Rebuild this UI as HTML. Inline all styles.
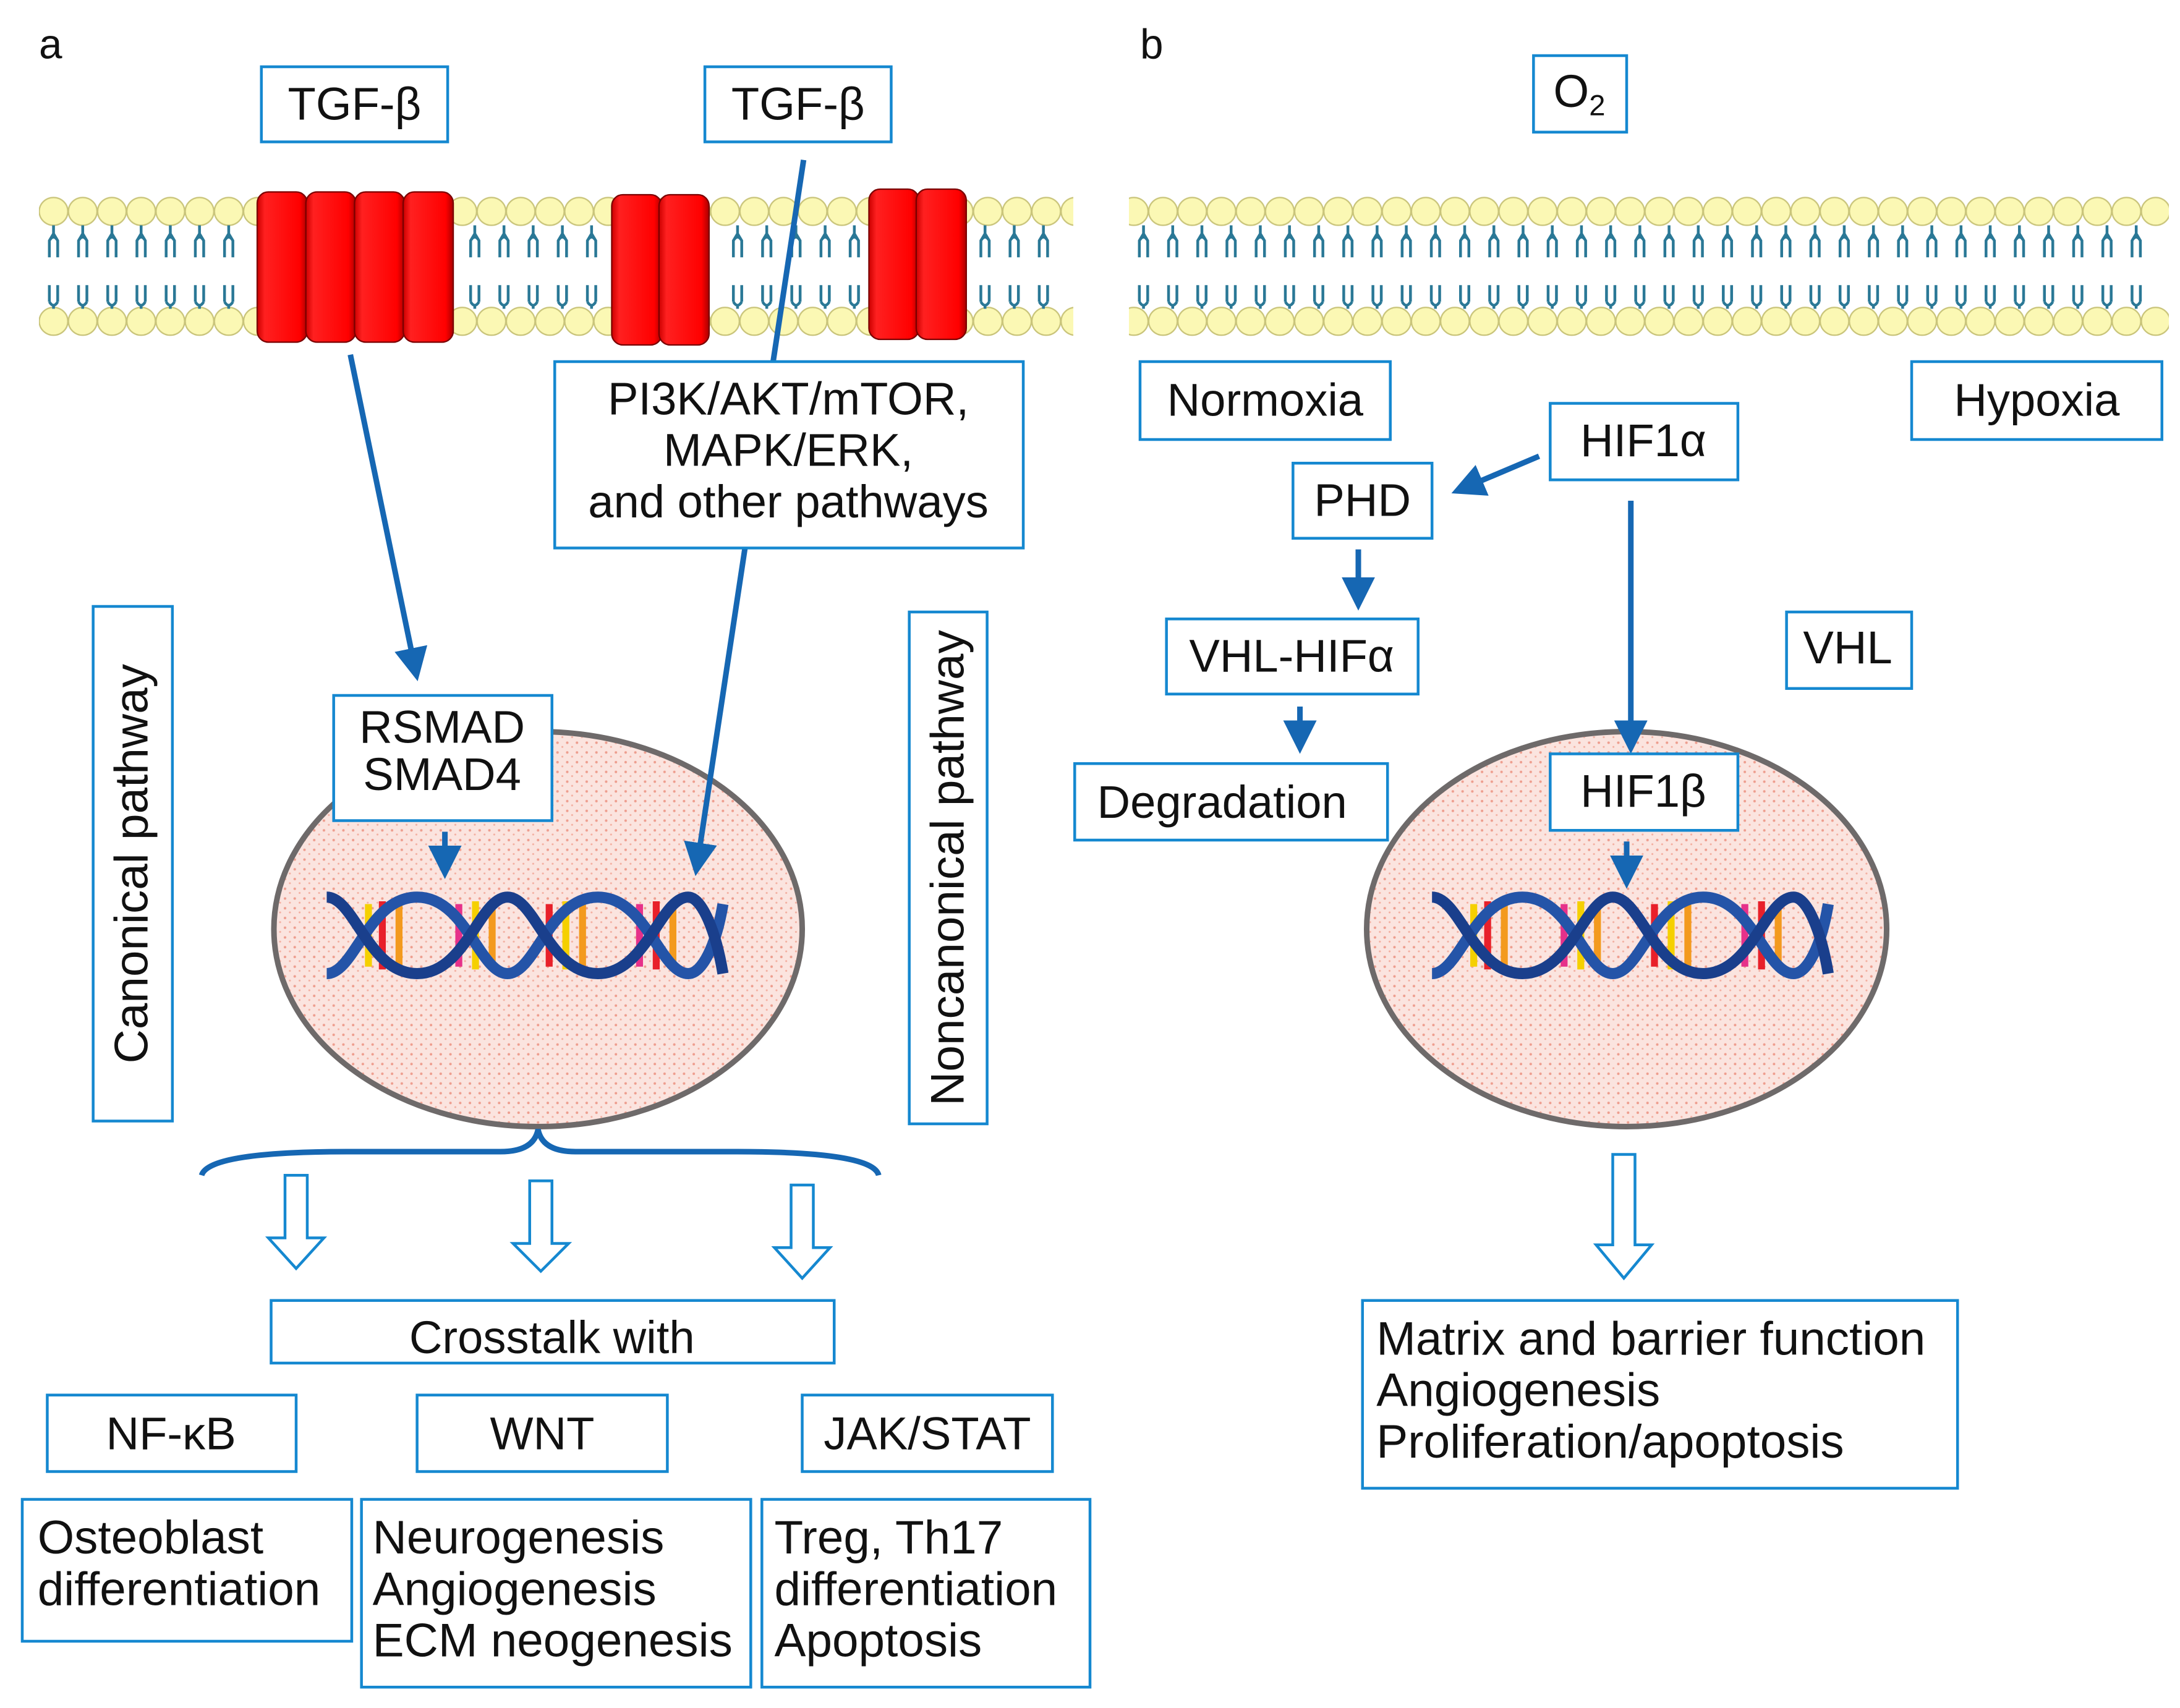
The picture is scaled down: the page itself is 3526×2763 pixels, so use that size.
<!DOCTYPE html>
<html><head><meta charset="utf-8"><style>
html,body{margin:0;padding:0;background:#fff}
svg{display:block}
text{font-family:"Liberation Sans",Arial,sans-serif;fill:#111}
</style></head><body>
<svg width="3526" height="2763" viewBox="0 0 1568 1228" preserveAspectRatio="none" xmlns="http://www.w3.org/2000/svg">
<defs>
<pattern id="lip" x="28" y="141" width="21" height="101" patternUnits="userSpaceOnUse">
<ellipse cx="10.5" cy="11" rx="10.3" ry="10" fill="#fbf8b4" stroke="#c9c47a" stroke-width="1"/>
<ellipse cx="10.5" cy="90" rx="10.3" ry="10" fill="#fbf8b4" stroke="#c9c47a" stroke-width="1"/>
</pattern>
<g id="tail" fill="none" stroke="#2a7896" stroke-width="2">
<path d="M0,162 v6 M-3,178 v-5 q3,-5 6,0 v5 M-3,173 l3,-5 l3,5 M-3,185 v-12 M3,185 v-12"/>
<path d="M-3,205 v12 M3,205 v12 M-3,217 q3,5 6,0 M0,220 v2"/>
</g>
<pattern id="dots" width="7" height="7" patternUnits="userSpaceOnUse">
<circle cx="2" cy="2" r="0.9" fill="#e8806c"/><circle cx="5.5" cy="5" r="0.7" fill="#ef9a88"/>
</pattern>
<marker id="ah" markerWidth="6" markerHeight="6" refX="3" refY="3" orient="auto" markerUnits="strokeWidth">
<path d="M0,0 L6,3 L0,6 z" fill="#1667b3"/>
</marker>
<linearGradient id="rg" x1="0" x2="1"><stop offset="0" stop-color="#c00"/><stop offset="0.15" stop-color="#ff2020"/><stop offset="0.85" stop-color="#f00"/><stop offset="1" stop-color="#a00"/></linearGradient>
</defs>

<text x="28" y="42" font-size="30">a</text>
<text x="820" y="42" font-size="30">b</text>

<!-- membranes -->
<rect x="28" y="141" width="744" height="101" fill="url(#lip)"/>
<rect x="812" y="141" width="748" height="101" fill="url(#lip)"/>
<g>
<use href="#tail" x="38.5"/><use href="#tail" x="59.5"/><use href="#tail" x="80.5"/><use href="#tail" x="101.5"/><use href="#tail" x="122.5"/><use href="#tail" x="143.5"/><use href="#tail" x="164.5"/>
<use href="#tail" x="341.5"/><use href="#tail" x="362.5"/><use href="#tail" x="383.5"/><use href="#tail" x="404.5"/><use href="#tail" x="425.5"/>
<use href="#tail" x="530.5"/><use href="#tail" x="551.5"/><use href="#tail" x="572.5"/><use href="#tail" x="593.5"/><use href="#tail" x="614.5"/>
<use href="#tail" x="708.5"/><use href="#tail" x="729.5"/><use href="#tail" x="750.5"/>
<use href="#tail" x="822.5"/><use href="#tail" x="843.5"/><use href="#tail" x="864.5"/><use href="#tail" x="885.5"/><use href="#tail" x="906.5"/><use href="#tail" x="927.5"/><use href="#tail" x="948.5"/><use href="#tail" x="969.5"/><use href="#tail" x="990.5"/><use href="#tail" x="1011.5"/><use href="#tail" x="1032.5"/><use href="#tail" x="1053.5"/><use href="#tail" x="1074.5"/><use href="#tail" x="1095.5"/><use href="#tail" x="1116.5"/><use href="#tail" x="1137.5"/><use href="#tail" x="1158.5"/><use href="#tail" x="1179.5"/><use href="#tail" x="1200.5"/><use href="#tail" x="1221.5"/><use href="#tail" x="1242.5"/><use href="#tail" x="1263.5"/><use href="#tail" x="1284.5"/><use href="#tail" x="1305.5"/><use href="#tail" x="1326.5"/><use href="#tail" x="1347.5"/><use href="#tail" x="1368.5"/><use href="#tail" x="1389.5"/><use href="#tail" x="1410.5"/><use href="#tail" x="1431.5"/><use href="#tail" x="1452.5"/><use href="#tail" x="1473.5"/><use href="#tail" x="1494.5"/><use href="#tail" x="1515.5"/><use href="#tail" x="1536.5"/>
</g>

<!-- receptors -->
<g stroke="#7a0000" stroke-width="1" fill="url(#rg)">
<rect x="185" y="138" width="36" height="108" rx="8"/><rect x="220" y="138" width="36" height="108" rx="8"/>
<rect x="255" y="138" width="36" height="108" rx="8"/><rect x="290" y="138" width="36" height="108" rx="8"/>
<rect x="440" y="140" width="36" height="108" rx="8"/><rect x="474" y="140" width="36" height="108" rx="8"/>
<rect x="625" y="136" width="36" height="108" rx="8"/><rect x="659" y="136" width="36" height="108" rx="8"/>
</g>

<!-- nuclei -->
<ellipse cx="387" cy="668" rx="190" ry="142" fill="#fbe4df" stroke="#6e6a6a" stroke-width="4"/>
<ellipse cx="387" cy="668" rx="188" ry="140" fill="url(#dots)" opacity="0.7"/>
<ellipse cx="1170" cy="668" rx="187" ry="142" fill="#fbe4df" stroke="#6e6a6a" stroke-width="4"/>
<ellipse cx="1170" cy="668" rx="185" ry="140" fill="url(#dots)" opacity="0.7"/>

<!-- DNA -->
<g id="dna1" transform="translate(235,640)">
<g stroke-width="5">
<line x1="30" y1="10" x2="30" y2="55" stroke="#f5d000"/><line x1="40" y1="8" x2="40" y2="57" stroke="#e8202a"/>
<line x1="52" y1="10" x2="52" y2="55" stroke="#f39a1e"/><line x1="95" y1="10" x2="95" y2="55" stroke="#e6318a"/>
<line x1="107" y1="8" x2="107" y2="57" stroke="#f5d000"/><line x1="119" y1="10" x2="119" y2="55" stroke="#f39a1e"/>
<line x1="160" y1="10" x2="160" y2="55" stroke="#e8202a"/><line x1="172" y1="8" x2="172" y2="57" stroke="#f5d000"/>
<line x1="184" y1="10" x2="184" y2="55" stroke="#f39a1e"/><line x1="225" y1="10" x2="225" y2="55" stroke="#e6318a"/>
<line x1="237" y1="8" x2="237" y2="57" stroke="#e8202a"/><line x1="249" y1="10" x2="249" y2="55" stroke="#f39a1e"/>
</g>
<path d="M0,60 C20,60 30,5 65,5 C100,5 110,60 130,60 C150,60 160,5 195,5 C230,5 240,60 260,60 C270,60 280,40 285,10" fill="none" stroke="#2454a8" stroke-width="8"/>
<path d="M0,5 C20,5 30,60 65,60 C100,60 110,5 130,5 C150,5 160,60 195,60 C230,60 240,5 260,5 C270,5 280,30 285,60" fill="none" stroke="#1a3f8c" stroke-width="8"/>
</g>
<use href="#dna1" transform="translate(795,0)"/>

<!-- arrows (behind boxes) -->
<g stroke="#1667b3" stroke-width="4" fill="none">
<line x1="252" y1="255" x2="298" y2="478" marker-end="url(#ah)"/>
<line x1="578" y1="115" x2="502" y2="618" marker-end="url(#ah)"/>
<line x1="320" y1="598" x2="320" y2="620" marker-end="url(#ah)"/>
<line x1="1107" y1="328" x2="1055" y2="350" marker-end="url(#ah)"/>
<line x1="977" y1="395" x2="977" y2="427" marker-end="url(#ah)"/>
<line x1="935" y1="508" x2="935" y2="530" marker-end="url(#ah)"/>
<line x1="1173" y1="360" x2="1173" y2="530" marker-end="url(#ah)"/>
<line x1="1170" y1="605" x2="1170" y2="627" marker-end="url(#ah)"/>
<path d="M145,845 Q150,828 250,828 L360,828 Q384,828 387,812 Q390,828 414,828 L530,828 Q628,828 632,845" stroke-width="4"/>
</g>

<!-- boxes -->
<g fill="#fff" stroke="#1588d0" stroke-width="2">
<rect x="188" y="48" width="134" height="54"/><rect x="507" y="48" width="134" height="54"/>
<rect x="1103" y="40" width="67" height="55"/>
<rect x="399" y="260" width="337" height="134"/>
<rect x="240" y="500" width="157" height="90"/>
<rect x="195" y="935" width="405" height="45"/>
<rect x="34" y="1003" width="179" height="55"/><rect x="300" y="1003" width="180" height="55"/><rect x="577" y="1003" width="180" height="55"/>
<rect x="16" y="1078" width="237" height="102"/><rect x="260" y="1078" width="280" height="135"/><rect x="548" y="1078" width="236" height="135"/>
<rect x="820" y="260" width="180" height="56"/><rect x="1375" y="260" width="180" height="56"/>
<rect x="1115" y="290" width="135" height="55"/><rect x="930" y="333" width="100" height="54"/>
<rect x="839" y="445" width="181" height="54"/><rect x="1285" y="440" width="90" height="55"/>
<rect x="773" y="549" width="225" height="55"/><rect x="1115" y="542" width="135" height="55"/>
<rect x="980" y="935" width="428" height="135"/>
</g>
<g fill="none" stroke="#1588d0" stroke-width="2">
<rect x="67" y="436" width="57" height="370"/><rect x="654" y="440" width="56" height="368"/>
</g>
<g fill="#fff" stroke="#1588d0" stroke-width="2">
<path d="M205,845 h16 v45 h12 l-20,22 l-20,-22 h12 z"/>
<path d="M381,849 h16 v45 h12 l-20,20 l-20,-20 h12 z"/>
<path d="M569,852 h16 v45 h12 l-20,22 l-20,-22 h12 z"/>
<path d="M1160,830 h16 v65 h12 l-20,24 l-20,-24 h12 z"/>
</g>

<!-- text -->
<g font-size="33" text-anchor="middle">
<text x="255" y="86">TGF-β</text><text x="574" y="86">TGF-β</text>
<text x="1136" y="77">O<tspan font-size="21" dy="6">2</tspan></text>
<text x="567" y="298">PI3K/AKT/mTOR,</text><text x="567" y="335">MAPK/ERK,</text><text x="567" y="372">and other pathways</text>
<text x="318" y="534">RSMAD</text><text x="318" y="568">SMAD4</text>
<text x="397" y="973">Crosstalk with</text>
<text x="123" y="1042">NF-κB</text><text x="390" y="1042">WNT</text><text x="667" y="1042">JAK/STAT</text>
<text x="910" y="299">Normoxia</text><text x="1465" y="299">Hypoxia</text>
<text x="1182" y="328">HIF1α</text><text x="980" y="371">PHD</text>
<text x="929" y="483">VHL-HIFα</text><text x="1329" y="477">VHL</text>
<text x="879" y="588">Degradation</text><text x="1182" y="580">HIF1β</text>
</g>
<g font-size="34">
<text x="27" y="1117">Osteoblast</text><text x="27" y="1154">differentiation</text>
<text x="268" y="1117">Neurogenesis</text><text x="268" y="1154">Angiogenesis</text><text x="268" y="1191">ECM neogenesis</text>
<text x="557" y="1117">Treg, Th17</text><text x="557" y="1154">differentiation</text><text x="557" y="1191">Apoptosis</text>
<text x="990" y="974">Matrix and barrier function</text><text x="990" y="1011">Angiogenesis</text><text x="990" y="1048">Proliferation/apoptosis</text>
<text transform="translate(106,621) rotate(-90)" text-anchor="middle">Canonical pathway</text>
<text transform="translate(693,624) rotate(-90)" text-anchor="middle">Noncanonical pathway</text>
</g>
</svg>
</body></html>
